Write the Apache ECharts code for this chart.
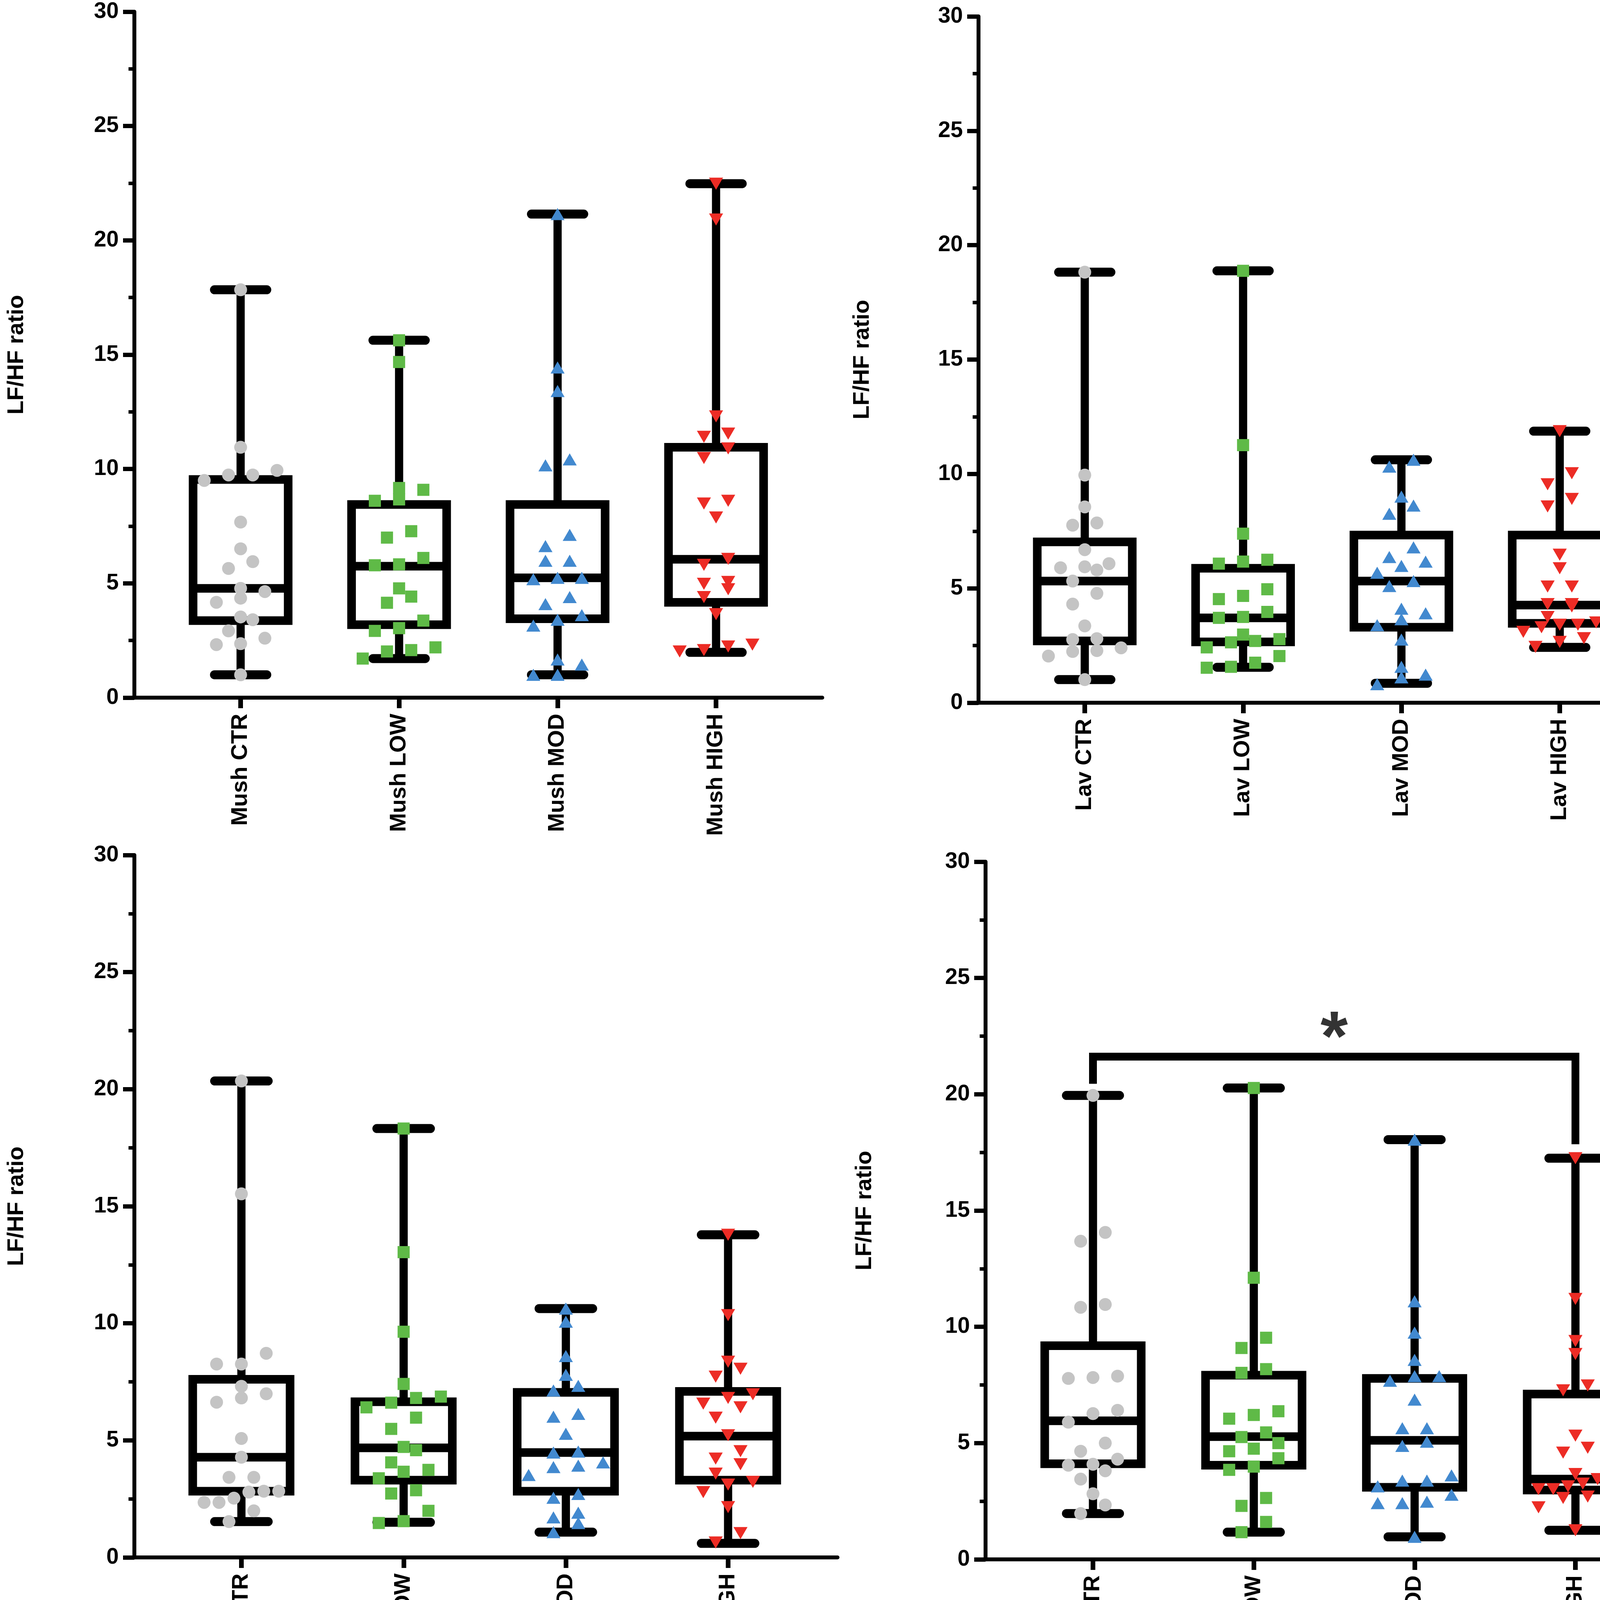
<!DOCTYPE html>
<html>
<head>
<meta charset="utf-8">
<script src="https://cdn.jsdelivr.net/npm/echarts@6.0.0/dist/echarts.min.js"></script>
<style>
html, body { margin: 0; padding: 0; background: #fff; }
#chart { width: 4317px; height: 4354px; }
</style>
</head>
<body>
<div id="chart"></div>
<script>
// ---- data (LF/HF ratio) ----
var yTicks = [0, 5, 10, 15, 20, 25, 30];

var mushCats = ['Mush CTR', 'Mush LOW', 'Mush MOD', 'Mush HIGH'];
var mushCtr = [17.84, 10.95, 9.74, 9.74, 9.94, 9.5, 7.68, 6.51, 5.95, 5.65, 4.64, 4.78, 4.17, 4.35, 3.53, 3.41, 2.92, 2.36, 2.32, 2.6, 1.0];
var mushLow = [15.63, 14.68, 9.17, 9.09, 8.67, 8.61, 7.28, 7.0, 6.11, 5.79, 5.83, 4.78, 4.42, 4.15, 3.37, 2.92, 3.04, 2.2, 2.02, 2.08, 1.71];
var mushMod = [21.15, 14.44, 13.41, 10.42, 10.16, 7.12, 6.63, 5.99, 5.99, 5.24, 5.18, 5.24, 4.4, 4.09, 3.41, 3.61, 3.15, 1.45, 1.67, 1.0, 1.0];
var mushHigh = [22.48, 20.91, 12.3, 11.41, 11.55, 10.9, 10.48, 8.49, 8.61, 7.88, 5.81, 6.07, 4.98, 4.74, 5.06, 4.4, 3.65, 2.02, 2.32, 2.08, 2.24];
// [min, Q1, median, Q3, max]
var mushBox = [[1.0, 3.37, 4.78, 9.54, 17.84], [1.71, 3.19, 5.75, 8.45, 15.63], [1.0, 3.45, 5.24, 8.45, 21.15], [1.98, 4.17, 6.05, 10.95, 22.48]];

var lavCats = ['Lav CTR', 'Lav LOW', 'Lav MOD', 'Lav HIGH'];
var lavCtr = [18.82, 9.95, 8.56, 7.76, 7.86, 6.69, 6.08, 5.9, 5.94, 5.8, 5.32, 4.78, 4.31, 3.36, 2.8, 2.76, 2.4, 2.24, 2.04, 2.28, 1.01];
var lavLow = [18.88, 11.26, 7.39, 6.08, 6.17, 6.25, 4.96, 4.67, 4.53, 3.97, 3.71, 3.75, 2.98, 2.42, 2.7, 2.78, 2.64, 2.04, 1.75, 1.53, 1.57];
var lavMod = [10.62, 10.32, 9.01, 8.26, 8.62, 6.79, 5.98, 6.17, 6.37, 5.68, 5.1, 5.32, 4.11, 3.91, 3.65, 3.39, 2.76, 1.57, 1.23, 1.11, 0.81];
var lavHigh = [11.87, 10.03, 9.55, 8.91, 8.58, 6.47, 5.88, 5.08, 5.08, 4.31, 4.21, 4.31, 3.75, 3.51, 3.41, 3.3, 3.41, 3.1, 2.82, 2.66, 2.44];
var lavBox = [[1.01, 2.7, 5.32, 7.03, 18.82], [1.55, 2.66, 3.71, 5.88, 18.88], [0.85, 3.3, 5.32, 7.33, 10.62], [2.42, 3.47, 4.27, 7.33, 11.87]];

var jasCats = ['Jas CTR', 'Jas LOW', 'Jas MOD', 'Jas HIGH'];
var jasCtr = [20.35, 15.53, 8.72, 8.26, 8.26, 7.31, 6.63, 6.81, 6.99, 5.08, 4.28, 3.42, 3.42, 2.83, 2.79, 2.83, 2.35, 2.53, 2.35, 1.99, 1.53];
var jasLow = [18.32, 13.04, 9.64, 7.41, 6.81, 6.87, 6.61, 6.41, 5.97, 5.49, 4.72, 4.58, 4.06, 3.74, 3.66, 3.38, 2.87, 2.73, 1.99, 1.47, 1.55];
var jasMod = [10.63, 10.07, 8.6, 7.8, 7.13, 7.33, 6.13, 6.01, 5.28, 4.52, 4.48, 3.86, 4.06, 3.92, 3.52, 2.71, 2.55, 1.91, 1.71, 1.47, 1.08];
var jasHigh = [13.78, 10.35, 8.36, 8.06, 7.72, 6.97, 6.81, 6.57, 6.41, 5.97, 5.22, 4.54, 4.22, 3.98, 3.58, 3.23, 3.11, 2.79, 2.15, 1.04, 0.64];
var jasBox = [[1.53, 2.83, 4.28, 7.61, 20.35], [1.5, 3.3, 4.68, 6.65, 18.32], [1.08, 2.83, 4.48, 7.05, 10.63], [0.6, 3.3, 5.18, 7.09, 13.78]];

var roseCats = ['Rose CTR', 'Rose LOW', 'Rose MOD', 'Rose HIGH'];
var roseCtr = [19.95, 14.06, 13.68, 10.84, 10.96, 7.78, 7.88, 7.82, 6.27, 6.41, 5.9, 5.0, 4.65, 4.31, 4.05, 3.81, 4.09, 3.45, 2.82, 2.34, 1.97];
var roseLow = [20.27, 12.11, 9.53, 9.09, 8.02, 8.18, 6.37, 6.05, 6.21, 5.46, 5.26, 4.76, 5.0, 4.65, 4.35, 3.85, 3.99, 2.3, 2.64, 1.61, 1.17];
var roseMod = [18.05, 11.1, 9.75, 8.58, 7.88, 7.68, 7.88, 6.87, 5.64, 5.64, 4.88, 5.06, 3.39, 3.61, 3.14, 3.39, 2.78, 2.42, 2.48, 2.42, 0.97];
var roseHigh = [17.25, 11.2, 9.39, 8.83, 7.48, 7.27, 5.32, 4.59, 4.8, 3.67, 3.55, 3.45, 3.02, 3.14, 3.26, 3.02, 2.7, 2.64, 2.7, 2.24, 1.25];
var roseBox = [[1.97, 4.11, 5.96, 9.19, 19.95], [1.17, 4.05, 5.28, 7.92, 20.27], [0.97, 3.1, 5.12, 7.78, 18.05], [1.25, 2.98, 3.45, 7.11, 17.25]];

// significance bracket Rose CTR vs Rose HIGH
var bracketFrom = 0, bracketTo = 3;
var bracketLeftEnd = 20.45, bracketTop = 21.62, bracketRightEnd = 17.85;
var starY = 22.98;

// ---- layout (pixels) ----
var FONT = '"Liberation Sans", Arial, Helvetica, sans-serif';
var layout = [
    {axisX: 344, top: 30, bottom: 1786, right: 2105, first: 616, band: 405.7, nameGap: 272},
    {axisX: 2505, top: 42, bottom: 1799, right: 4305, first: 2777, band: 405.3, nameGap: 268},
    {axisX: 344, top: 2189, bottom: 3987, right: 2144, first: 618, band: 415.3, nameGap: 272},
    {axisX: 2523, top: 2206, bottom: 3992, right: 4310, first: 2798, band: 411.7, nameGap: 280}
];
var panels = [
    {cats: mushCats, groups: [mushCtr, mushLow, mushMod, mushHigh], box: mushBox},
    {cats: lavCats, groups: [lavCtr, lavLow, lavMod, lavHigh], box: lavBox},
    {cats: jasCats, groups: [jasCtr, jasLow, jasMod, jasHigh], box: jasBox},
    {cats: roseCats, groups: [roseCtr, roseLow, roseMod, roseHigh], box: roseBox}
];
var markers = [
    {symbol: 'circle', size: 33, rotate: 0, color: '#c4c4c4'},
    {symbol: 'rect', size: 31, rotate: 0, color: '#5fba47'},
    {symbol: 'triangle', size: [36, 31], rotate: 0, color: '#4289cf'},
    {symbol: 'triangle', size: [36, 31], rotate: 180, color: '#ec2c25'}
];

// spread points that share a value band side by side (column scatter)
function swarm(values, k) {
    var sorted = values.slice().sort(function (a, b) { return a - b; });
    var rows = [], out = [];
    sorted.forEach(function (v) {
        var row = rows[rows.length - 1];
        if (row && v - row[0] < 0.55) row.push(v); else rows.push([v]);
    });
    rows.forEach(function (row) {
        var n = row.length;
        var step = n > 1 ? Math.min(0.153, 0.46 / (n - 1)) : 0;
        row.forEach(function (v, j) {
            out.push([k + (j - (n - 1) / 2) * step, v]);
        });
    });
    return out;
}

function renderBox(params, api) {
    var k = api.value(0);
    var pMin = api.coord([k, api.value(1)]);
    var pQ1 = api.coord([k, api.value(2)]);
    var pMed = api.coord([k, api.value(3)]);
    var pQ3 = api.coord([k, api.value(4)]);
    var pMax = api.coord([k, api.value(5)]);
    var band = api.size([1, 0])[0];
    var cx = pMed[0], hw = band * 0.30, cap = band * 0.165;
    return {
        type: 'group',
        children: [
            {type: 'line', shape: {x1: cx, y1: pMin[1], x2: cx, y2: pQ1[1]}, style: {stroke: '#000', lineWidth: 21}},
            {type: 'line', shape: {x1: cx, y1: pQ3[1], x2: cx, y2: pMax[1]}, style: {stroke: '#000', lineWidth: 21}},
            {type: 'line', shape: {x1: cx - cap, y1: pMin[1], x2: cx + cap, y2: pMin[1]}, style: {stroke: '#000', lineWidth: 23, lineCap: 'round'}},
            {type: 'line', shape: {x1: cx - cap, y1: pMax[1], x2: cx + cap, y2: pMax[1]}, style: {stroke: '#000', lineWidth: 23, lineCap: 'round'}},
            {type: 'rect', shape: {x: cx - hw, y: pQ3[1], width: 2 * hw, height: pQ1[1] - pQ3[1]}, style: {fill: 'none', stroke: '#000', lineWidth: 22, lineJoin: 'miter'}},
            {type: 'line', shape: {x1: cx - hw, y1: pMed[1], x2: cx + hw, y2: pMed[1]}, style: {stroke: '#000', lineWidth: 22}}
        ]
    };
}

var grids = [], xAxes = [], yAxes = [], series = [];
var textBold = {color: '#000', fontWeight: 'bold', fontFamily: FONT};

panels.forEach(function (p, i) {
    var L = layout[i];
    var h = L.bottom - L.top;
    // frame grid: axis lines
    grids.push({left: L.axisX, top: L.top, width: L.right - L.axisX, height: h, containLabel: false, outerBoundsMode: 'none'});
    // data grid: category bands
    grids.push({left: L.first - L.band / 2, top: L.top, width: L.band * 4, height: h, containLabel: false, outerBoundsMode: 'none'});

    xAxes.push({
        gridIndex: 2 * i, type: 'value', min: 0, max: 1,
        axisLine: {show: true, onZero: false, lineStyle: {color: '#000', width: 10}},
        axisTick: {show: false}, axisLabel: {show: false}, splitLine: {show: false}
    });
    xAxes.push({
        gridIndex: 2 * i + 1, type: 'category', data: p.cats, position: 'bottom',
        axisLine: {show: false},
        axisTick: {show: true, alignWithLabel: true, interval: 0, length: 27, lineStyle: {color: '#000', width: 12}},
        axisLabel: Object.assign({rotate: 90, margin: 41, interval: 0, fontSize: 58}, textBold),
        splitLine: {show: false}
    });
    xAxes.push({gridIndex: 2 * i + 1, type: 'value', min: -0.5, max: 3.5, show: false, position: 'top'});

    yAxes.push({
        gridIndex: 2 * i, type: 'value', min: yTicks[0], max: yTicks[yTicks.length - 1], interval: yTicks[1] - yTicks[0],
        name: 'LF/HF ratio', nameLocation: 'middle', nameGap: L.nameGap,
        nameTextStyle: Object.assign({fontSize: 58}, textBold),
        axisLine: {show: true, onZero: false, lineStyle: {color: '#000', width: 10}},
        axisTick: {show: true, length: 29, lineStyle: {color: '#000', width: 11}},
        minorTick: {show: true, splitNumber: 2, length: 15, lineStyle: {color: '#000', width: 9}},
        axisLabel: Object.assign({margin: 40, fontSize: 57}, textBold),
        splitLine: {show: false}, minorSplitLine: {show: false}
    });
    yAxes.push({gridIndex: 2 * i + 1, type: 'value', min: 0, max: 30, show: false});

    var xi = 3 * i + 2, yi = 2 * i + 1;
    series.push({
        type: 'custom', xAxisIndex: xi, yAxisIndex: yi, renderItem: renderBox, silent: true, z: 2,
        data: p.box.map(function (b, k) { return [k].concat(b); })
    });
    p.groups.forEach(function (vals, k) {
        var m = markers[k];
        series.push({
            type: 'scatter', xAxisIndex: xi, yAxisIndex: yi, z: 3, silent: true,
            symbol: m.symbol, symbolSize: m.size, symbolRotate: m.rotate,
            itemStyle: {color: m.color, opacity: 1},
            data: swarm(vals, k)
        });
    });
});

// Rose panel: significance bracket and star
series.push({
    type: 'line', xAxisIndex: 11, yAxisIndex: 7, z: 2, silent: true, symbol: 'none',
    lineStyle: {color: '#000', width: 20, join: 'miter', cap: 'butt'},
    data: [[bracketFrom, bracketLeftEnd], [bracketFrom, bracketTop], [bracketTo, bracketTop], [bracketTo, bracketRightEnd]]
});
series.push({
    type: 'scatter', xAxisIndex: 11, yAxisIndex: 7, z: 4, silent: true, symbolSize: 0,
    label: Object.assign({show: true, position: 'inside', formatter: '*', fontSize: 180, offset: [0, 40]}, textBold),
    data: [[(bracketFrom + bracketTo) / 2, starY]]
});

var chart = echarts.init(document.getElementById('chart'));
chart.setOption({
    backgroundColor: '#fff',
    animation: false,
    grid: grids,
    xAxis: xAxes,
    yAxis: yAxes,
    series: series
});
</script>
</body>
</html>
